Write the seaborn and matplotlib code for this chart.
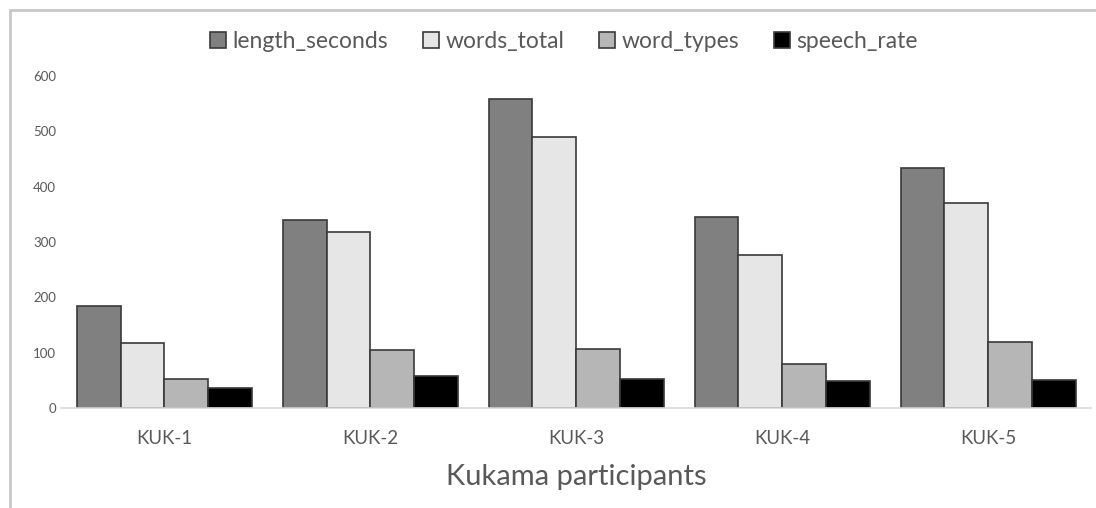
import pandas as pd
import numpy as np
import matplotlib
matplotlib.use('Agg')
import matplotlib.pyplot as plt
from matplotlib.lines import Line2D
import seaborn as sns

# values
participants = ['KUK-1', 'KUK-2', 'KUK-3', 'KUK-4', 'KUK-5']
length_seconds = [185, 340, 558, 346, 434]
words_total = [118, 318, 490, 277, 370]
word_types = [53, 105, 107, 80, 119]
speech_rate = [37, 58, 52, 49, 51]

series_names = ['length_seconds', 'words_total', 'word_types', 'speech_rate']
series_colors = ['#808080', '#e6e6e6', '#b6b6b6', '#000000']

data = pd.DataFrame({
    'participant': participants,
    'length_seconds': length_seconds,
    'words_total': words_total,
    'word_types': word_types,
    'speech_rate': speech_rate,
})
long_df = data.melt(id_vars='participant', var_name='measure', value_name='value')

sns.set_style('white')
plt.rcParams['font.family'] = ['Lato', 'DejaVu Sans']
text_gray = '#595959'

fig = plt.figure(figsize=(10.96, 5.08), dpi=100)
ax = fig.add_axes([0.0561, 0.1969, 0.9393, 0.6535])

sns.barplot(data=long_df, x='participant', y='value', hue='measure',
            hue_order=series_names, palette=series_colors, order=participants,
            width=0.85, gap=0, edgecolor='#3a3a3a', linewidth=1.2,
            saturation=1, ax=ax, legend=True)

ax.set_xlim(-0.5, 4.5)
ax.set_ylim(0, 600)
ax.set_yticks(np.arange(0, 601, 100))
ax.tick_params(axis='y', labelsize=9.5, colors=text_gray, length=0, pad=4)
ax.tick_params(axis='x', labelsize=13.5, colors=text_gray, length=0, pad=16)
for s in ['top', 'right', 'left']:
    ax.spines[s].set_visible(False)
ax.spines['bottom'].set_color('#d9d9d9')
ax.spines['bottom'].set_linewidth(1.2)
ax.set_ylabel('')
ax.set_xlabel('Kukama participants', fontsize=21, color=text_gray, labelpad=12)

handles, labels = ax.get_legend_handles_labels()
ax.legend(handles, labels, loc='lower center', bbox_to_anchor=(0.488, 1.01), ncol=4,
          frameon=False, fontsize=16.5, handlelength=0.7, handleheight=0.7,
          handletextpad=0.3, columnspacing=1.5, labelcolor=text_gray)

# partial chart frame visible in the reference
fig.add_artist(Line2D([10 / 1096, 10 / 1096], [0, 1 - 10 / 508],
                      transform=fig.transFigure, color='#c8c8c8', linewidth=2))
fig.add_artist(Line2D([10 / 1096, 1], [1 - 10 / 508, 1 - 10 / 508],
                      transform=fig.transFigure, color='#c8c8c8', linewidth=2))

fig.savefig('out.png', dpi=100)
